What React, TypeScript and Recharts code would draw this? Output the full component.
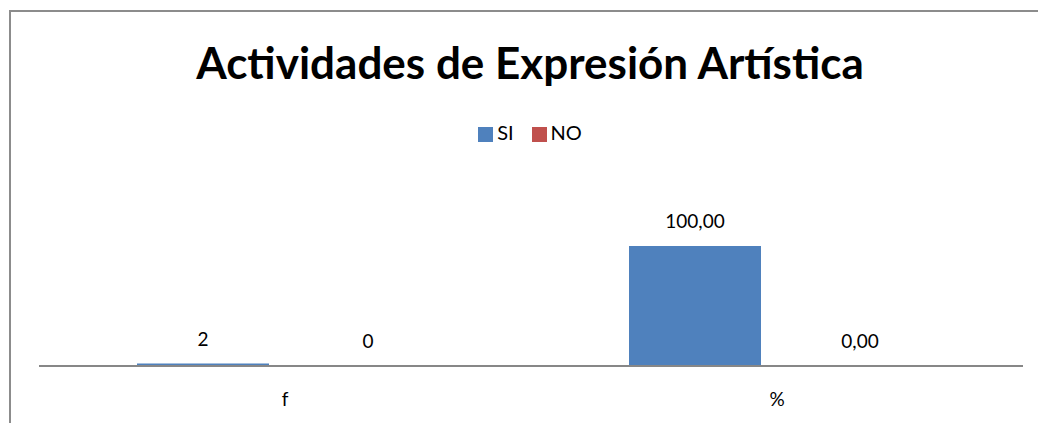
import React from "react";
import { BarChart, Bar, XAxis, YAxis, Legend, LabelList } from "recharts";

const categories = ["f", "%"];
const siValues = [2, 100];
const noValues = [0, 0];
const siLabels = ["2", "100,00"];
const noLabels = ["0", "0,00"];
const seriesOrder = ["SI", "NO"];

const data = categories.map((name, i) => ({
  name,
  SI: siValues[i],
  NO: noValues[i],
  siLabel: siLabels[i],
  noLabel: noLabels[i],
}));

const FONT = "Lato, 'Noto Sans', sans-serif";

export default function App() {
  return (
    <div
      style={{
        position: "fixed",
        left: 0,
        top: 0,
        width: 1038,
        height: 423,
        background: "#fff",
        fontFamily: FONT,
      }}
    >
      <div
        style={{
          position: "absolute",
          left: 9,
          top: 10,
          width: 1029,
          height: 413,
          borderTop: "2px solid #8c8c8c",
          borderLeft: "2px solid #8c8c8c",
          boxSizing: "border-box",
        }}
      />
      <div
        style={{
          position: "absolute",
          left: 0,
          top: 36,
          width: 1060,
          textAlign: "center",
          fontSize: 44,
          fontWeight: 700,
          lineHeight: "52px",
          color: "#000",
        }}
      >
        Actividades de Expresión Artística
      </div>
      <BarChart
        width={1038}
        height={423}
        data={data}
        margin={{ top: 222, right: 15, left: 39, bottom: 0 }}
        barCategoryGap={98}
        barGap={33}
        style={{ position: "absolute", left: 0, top: 0 }}
      >
        <XAxis
          dataKey="name"
          height={57}
          tickLine={false}
          tickSize={0}
          tickMargin={27}
          axisLine={{ stroke: "#878787", strokeWidth: 2 }}
          tick={{ fill: "#000", fontSize: 19, fontFamily: FONT }}
        />
        <YAxis hide domain={[0, 120]} />
        <Legend
          layout="horizontal"
          verticalAlign="middle"
          align="center"
          iconType="square"
          iconSize={15}
          itemSorter={(item: any) => seriesOrder.indexOf(item.value)}
          wrapperStyle={{ top: 120, left: 16, width: 1038, fontSize: 20 }}
          formatter={(value) => (
            <span
              style={{
                color: "#000",
                paddingRight: value === "SI" ? 8 : 0,
              }}
            >
              {value}
            </span>
          )}
        />
        <Bar dataKey="SI" name="SI" fill="#4F81BD" isAnimationActive={false}>
          <LabelList
            dataKey="siLabel"
            position="top"
            offset={18}
            style={{ fill: "#000", fontSize: 19, fontFamily: FONT }}
          />
        </Bar>
        <Bar
          dataKey="NO"
          name="NO"
          fill="#C0504D"
          minPointSize={0.5}
          isAnimationActive={false}
        >
          <LabelList
            dataKey="noLabel"
            position="top"
            offset={18}
            style={{ fill: "#000", fontSize: 19, fontFamily: FONT }}
          />
        </Bar>
      </BarChart>
    </div>
  );
}
